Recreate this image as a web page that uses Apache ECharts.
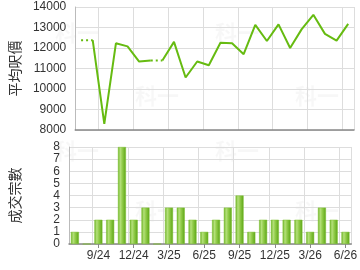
<!DOCTYPE html>
<html><head><meta charset="utf-8">
<script src="https://cdn.jsdelivr.net/npm/echarts@6/dist/echarts.min.js"></script>
<style>html,body{margin:0;padding:0;background:#fff}#c{width:360px;height:270px}</style>
</head><body><div id="c"></div>
<script>
var months = ['7/24','8/24','9/24','10/24','11/24','12/24','1/25','2/25','3/25','4/25','5/25','6/25','7/25','8/25','9/25','10/25','11/25','12/25','1/26','2/26','3/26','4/26','5/26','6/26'];
var prices = [12380,null,8300,12230,12080,11340,11390,null,12300,10560,11340,11160,12260,12230,11700,13130,12340,13150,12000,12920,13620,12690,12360,13180];
var counts = [1,0,2,2,8,2,3,0,3,3,2,1,2,3,4,1,2,2,2,2,1,3,2,1];
var priceTicks = [8000,9000,10000,11000,12000,13000,14000];
var countTicks = [0,1,2,3,4,5,6,7,8];

// carry forward missing prices, build solid and dotted pieces
var filled = [], last = null;
prices.forEach(function(v){ if (v != null) last = v; filled.push(v != null ? v : last); });
var solidSeries = [], cur = null;
var dotted = months.map(function(){ return null; });
for (var i = 0; i < months.length; i++) {
  if (prices[i] == null) {
    dotted[i-1] = filled[i-1]; dotted[i] = filled[i];
    if (cur) { solidSeries.push(cur); }
    cur = months.map(function(){ return null; });
    cur[i] = filled[i];
  } else {
    if (!cur) cur = months.map(function(){ return null; });
    if (i === 0 && prices[1] == null) { continue; }
    cur[i] = filled[i];
  }
}
if (cur) solidSeries.push(cur);

var gridColor = '#dddddd';
var lineGreen = '#66bb11';
var tickShow = function(idx){ return idx % 3 === 2; };
var font = 'Liberation Sans, Arial, sans-serif';

var series = [];
solidSeries.forEach(function(d){
  series.push({type:'line', xAxisIndex:0, yAxisIndex:0, data:d, showSymbol:false, symbol:'none',
    lineStyle:{color:lineGreen, width:2}, connectNulls:false, animation:false, z:3});
});
series.push({type:'line', xAxisIndex:0, yAxisIndex:0, data:dotted, symbol:'none',
  lineStyle:{color:lineGreen, width:2, type:[2,3]}, connectNulls:false, animation:false, z:3});
series.push({type:'bar', xAxisIndex:1, yAxisIndex:1, data:counts, barWidth:8, animation:false,
  itemStyle:{color:new echarts.graphic.LinearGradient(0,0,1,0,[
    {offset:0,color:'#6cb224'},{offset:0.3,color:'#b4e07a'},{offset:0.55,color:'#92cc4a'},{offset:1,color:'#5aa414'}]),
    borderColor:'#7cc02e', borderWidth:0.5}});

var wm = function(x,y){ return {type:'text', left:x, top:y, silent:true, z:0,
  style:{text:'科一', fill:'rgba(0,0,0,0.03)', font:'bold 22px "Noto Sans CJK SC"'}}; };

var chart = echarts.init(document.getElementById('c'), null, {renderer:'canvas'});
chart.setOption({
  animation:false,
  textStyle:{fontFamily:font},
  graphic:[wm(55,22),wm(135,85),wm(215,22),wm(295,85),wm(55,140),wm(135,200),wm(215,140),wm(295,200)],
  grid:[{left:65,right:6,top:7,height:123},{left:65,right:6,top:147,height:97}],
  xAxis:[
    {type:'category', gridIndex:0, data:months, boundaryGap:true,
      axisLine:{lineStyle:{color:'#888', width:1.5}}, axisTick:{show:false}, axisLabel:{show:false},
      splitLine:{show:true, interval:function(i){return tickShow(i);}, lineStyle:{color:gridColor}}},
    {type:'category', gridIndex:1, data:months, boundaryGap:true,
      axisLine:{lineStyle:{color:'#888', width:1.5}},
      axisTick:{show:true, alignWithLabel:true, interval:function(i){return tickShow(i);}, length:4, lineStyle:{color:'#888'}},
      axisLabel:{interval:function(i){return tickShow(i);}, color:'#333', fontSize:12, margin:6, fontFamily:font},
      splitLine:{show:true, interval:function(i){return tickShow(i);}, lineStyle:{color:gridColor}}}
  ],
  yAxis:[
    {type:'value', gridIndex:0, min:priceTicks[0], max:priceTicks[priceTicks.length-1], interval:1000,
      name:'平均呎價', nameLocation:'middle', nameGap:47, nameRotate:90,
      nameTextStyle:{fontSize:14, color:'#333', fontFamily:'"Noto Sans CJK TC"'},
      axisLine:{show:true, lineStyle:{color:'#bbb'}}, axisTick:{show:false},
      axisLabel:{color:'#333', fontSize:12, margin:9, fontFamily:font, formatter:function(v){return String(v);}},
      splitLine:{lineStyle:{color:gridColor}}},
    {type:'value', gridIndex:1, min:countTicks[0], max:countTicks[countTicks.length-1], interval:1,
      name:'成交宗數', nameLocation:'middle', nameGap:47, nameRotate:90,
      nameTextStyle:{fontSize:14, color:'#333', fontFamily:'"Noto Sans CJK TC"'},
      axisLine:{show:true, lineStyle:{color:'#bbb'}}, axisTick:{show:false},
      axisLabel:{color:'#333', fontSize:12, margin:9, fontFamily:font},
      splitLine:{lineStyle:{color:gridColor}}}
  ],
  series:series
});
</script></body></html>
